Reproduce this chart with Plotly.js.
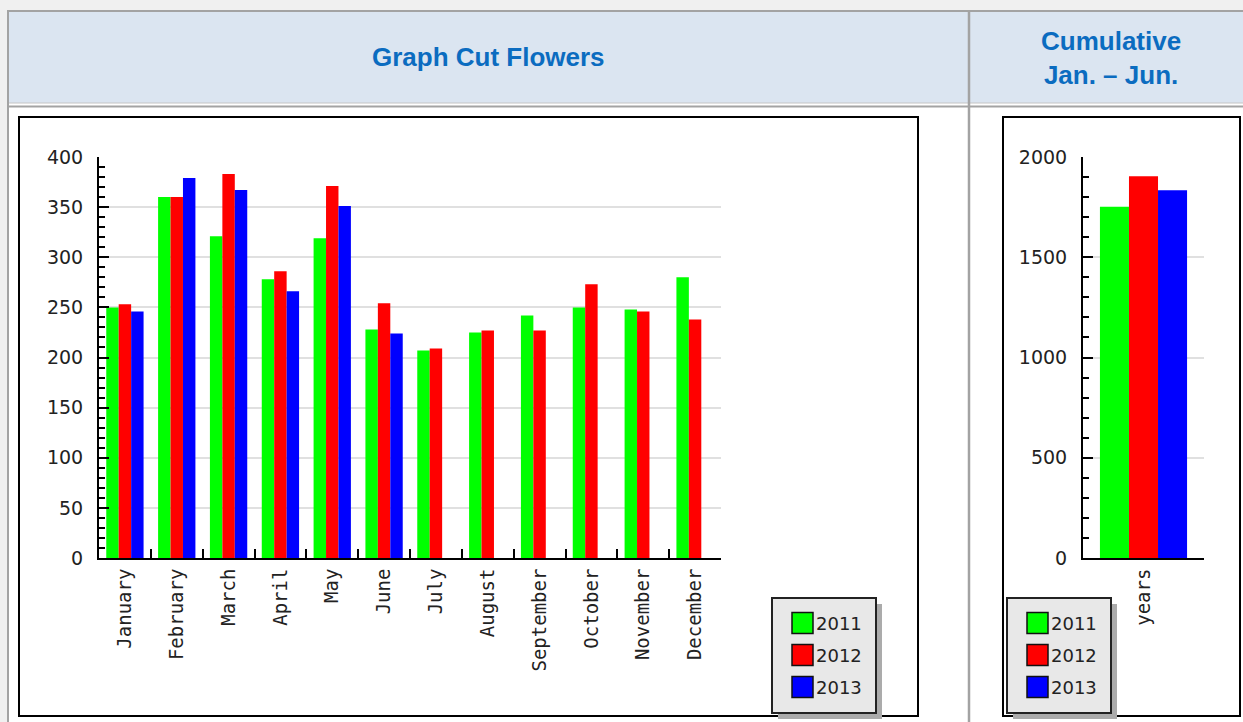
<!DOCTYPE html>
<html><head><meta charset="utf-8">
<script src="https://cdn.plot.ly/plotly-3.0.1.min.js"></script>
<style>html,body{margin:0;padding:0;background:#f0f0f0;}#chart{width:1243px;height:722px;}</style>
</head><body><div id="chart"></div>
<script>
// ---- data ----
const months = ['January','February','March','April','May','June','July','August','September','October','November','December'];
const seriesNames = ['2011','2012','2013'];
const seriesColors = ['#00ff00','#ff0000','#0000ff'];
const values2011 = [250,360,321,278,319,228,207,225,242,250,248,280];
const values2012 = [253,360,383,286,371,254,209,227,227,273,246,238];
const values2013 = [246,379,367,266,351,224,null,null,null,null,null,null];
const cumCategory = ['years'];
const cum2011 = [1752];
const cum2012 = [1904];
const cum2013 = [1834];
const headerLeft = 'Graph Cut Flowers';
const headerRight = 'Cumulative<br>Jan. – Jun.';

// ---- layout helpers (pixel -> paper) ----
const W = 1243, H = 722;
const px = x => x / W;
const py = y => 1 - y / H;

const monthly = [values2011, values2012, values2013];
const cumulative = [cum2011, cum2012, cum2013];
const traces = [];
monthly.forEach((vals, i) => traces.push({
  type: 'bar', x: months, y: vals, name: seriesNames[i],
  marker: {color: seriesColors[i], line: {width: 0}},
  xaxis: 'x', yaxis: 'y', showlegend: false, hoverinfo: 'x+y+name'
}));
cumulative.forEach((vals, i) => traces.push({
  type: 'bar', x: cumCategory, y: vals, name: seriesNames[i],
  marker: {color: seriesColors[i], line: {width: 0}},
  xaxis: 'x2', yaxis: 'y2', showlegend: false, hoverinfo: 'x+y+name'
}));

const tickFont = {family: 'DejaVu Sans, Verdana, sans-serif', size: 19, color: '#222'};
const catFont = {family: 'DejaVu Sans Mono, monospace', size: 19, color: '#222'};

function yAxis(domain, range, dtick, minor, anchor, standoff) {
  return {
    domain: domain, range: range, dtick: dtick, tick0: 0, anchor: anchor,
    showline: true, linecolor: '#000', linewidth: 2,
    ticks: 'inside', ticklen: 10, tickwidth: 2, tickcolor: '#000',
    minor: {dtick: minor, ticks: 'inside', ticklen: 6, tickwidth: 2, tickcolor: '#000', showgrid: false},
    showgrid: true, gridcolor: '#e0e0e0', gridwidth: 2, zeroline: false,
    tickfont: tickFont, ticklabelstandoff: standoff, fixedrange: true
  };
}
function xAxis(domain, range, anchor) {
  return {
    domain: domain, range: range, type: 'category', anchor: anchor,
    showline: true, linecolor: '#000', linewidth: 2,
    ticks: 'inside', tickson: 'boundaries', ticklen: 9, tickwidth: 2, tickcolor: '#000',
    tickangle: -90, tickfont: catFont, ticklabelstandoff: 1,
    showgrid: false, zeroline: false, fixedrange: true
  };
}

const gray = '#a3a3a3';
const P = (o) => Object.assign({xref:'paper', yref:'paper'}, o);
const shapes = [
  // page body and header cells
  P({type:'rect', x0:px(9), x1:px(1243), y0:py(106), y1:py(722), fillcolor:'#ffffff', line:{width:0}, layer:'below'}),
  P({type:'rect', x0:px(9), x1:px(1243), y0:py(12), y1:py(103), fillcolor:'#dbe5f1', line:{width:0}, layer:'below'}),
  P({type:'rect', x0:px(9), x1:px(1243), y0:py(103), y1:py(106), fillcolor:'#ffffff', line:{width:0}, layer:'below'}),
  P({type:'line', x0:px(7), x1:px(1243), y0:py(11), y1:py(11), line:{color:gray, width:2}}),
  P({type:'line', x0:px(9), x1:px(1243), y0:py(103), y1:py(103), line:{color:'#c4c4c4', width:1}}),
  P({type:'line', x0:px(9), x1:px(1243), y0:py(106.5), y1:py(106.5), line:{color:gray, width:2}}),
  P({type:'line', x0:px(8), x1:px(8), y0:py(10), y1:py(722), line:{color:gray, width:2}}),
  P({type:'line', x0:px(969), x1:px(969), y0:py(10), y1:py(722), line:{color:gray, width:2.5}}),
  // chart frames
  P({type:'rect', x0:px(19), x1:px(918), y0:py(117), y1:py(716), line:{color:'#000', width:2}}),
  P({type:'rect', x0:px(1003), x1:px(1240), y0:py(117), y1:py(716), line:{color:'#000', width:2}})
];

const headFont = {family: 'Liberation Sans, Arial, sans-serif', size: 26, color: '#0b6cc0'};
const annotations = [
  P({x:px(488), y:py(57), text:'<b>'+headerLeft+'</b>', showarrow:false, font:headFont, xanchor:'center', yanchor:'middle'}),
  P({x:px(1111), y:py(58), text:'<b>'+headerRight+'</b>', showarrow:false, font:headFont, xanchor:'center', yanchor:'middle'})
];

// ---- legend boxes (drawn as shapes + text) ----
const legendFont = {family: 'DejaVu Sans, Verdana, sans-serif', size: 18, color: '#222'};
function addLegend(left, top) {
  const w = 104, h = 115;
  shapes.push(P({type:'rect', x0:px(left+6), x1:px(left+w+6), y0:py(top+6), y1:py(top+h+6), fillcolor:'#ababab', line:{width:0}}));
  shapes.push(P({type:'rect', x0:px(left), x1:px(left+w), y0:py(top), y1:py(top+h), fillcolor:'#e8e8e8', line:{color:'#222', width:2}}));
  seriesNames.forEach((name, i) => {
    const cy = top + 25 + i * 32;
    shapes.push(P({type:'rect', x0:px(left+20), x1:px(left+41), y0:py(cy-10.5), y1:py(cy+10.5), fillcolor:seriesColors[i], line:{color:'#111', width:1.5}}));
    annotations.push(P({x:px(left+42), y:py(cy), text:name, showarrow:false, font:legendFont, xanchor:'left', yanchor:'middle'}));
  });
}
addLegend(772, 598);
addLegend(1007, 598);

const layout = {
  width: W, height: H, margin: {l:0, r:0, t:0, b:0},
  paper_bgcolor: '#f0f0f0', plot_bgcolor: 'rgba(0,0,0,0)',
  barmode: 'group', bargap: 0.28, bargroupgap: 0,
  xaxis: xAxis([px(99), px(721)], [-0.5, 11.5], 'y'),
  yaxis: yAxis([py(558), py(157)], [0, 400], 50, 10, 'x', 10),
  xaxis2: xAxis([px(1083), px(1204)], [-0.5, 0.5], 'y2'),
  yaxis2: yAxis([py(558), py(157)], [0, 2000], 500, 100, 'x2', 10),
  showlegend: false,
  shapes: shapes,
  annotations: annotations
};

Plotly.newPlot('chart', traces, layout, {displayModeBar: false, staticPlot: true});
</script>
</body></html>
